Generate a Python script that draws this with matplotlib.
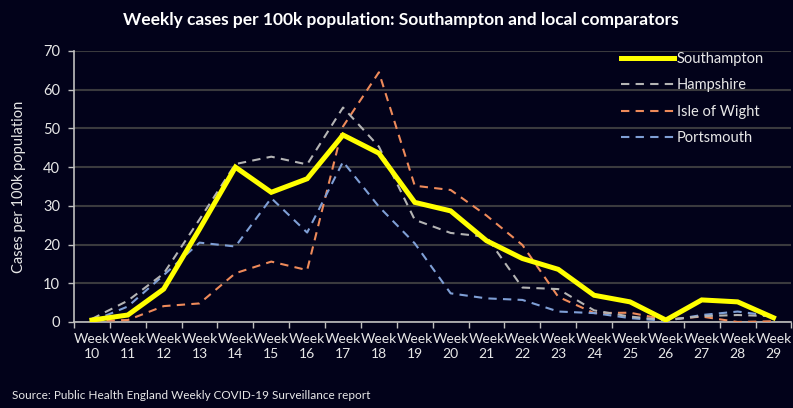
import numpy as np
from matplotlib import pyplot as plt

weeks = [f'Week\n{w}' for w in range(10, 30)]
southampton = [0.5, 1.8, 8.5, 24.0, 40.0, 33.5, 37.0, 48.3, 43.6, 30.9, 28.7, 21.0, 16.4, 13.6, 6.9, 5.2, 0.5, 5.7, 5.2, 1.1]
hampshire = [0.8, 5.5, 12.5, 26.5, 40.8, 42.7, 40.7, 55.4, 45.3, 26.4, 23.0, 22.0, 8.9, 8.5, 3.0, 1.4, 0.5, 1.5, 1.8, 1.5]
isle_of_wight = [0.3, 0.5, 4.1, 4.8, 12.6, 15.6, 13.4, 50.5, 64.5, 35.2, 34.1, 27.5, 19.9, 6.5, 2.3, 2.4, 0.6, 1.4, 0.0, 0.2]
portsmouth = [0.2, 4.0, 12.1, 20.5, 19.5, 32.0, 23.1, 41.4, 29.8, 20.3, 7.4, 6.1, 5.7, 2.7, 2.3, 1.0, 0.3, 1.8, 2.7, 1.5]

bg = '#02021a'
txt = '#e8e8e8'

plt.rcParams['font.family'] = ['Lato', 'DejaVu Sans']

fig = plt.figure(figsize=(7.93, 4.08), dpi=100, facecolor=bg)
ax = fig.add_axes([0.0933, 0.2108, 0.9047, 0.6642], facecolor=bg)

x = np.arange(len(weeks))
ax.plot(x, southampton, color='#ffff00', lw=3.6, label='Southampton', zorder=5, solid_joinstyle='miter')
ax.plot(x, hampshire, color='#b4b4b4', lw=1.5, ls=(0, (4, 3)), label='Hampshire', zorder=4)
ax.plot(x, isle_of_wight, color='#ee8a5a', lw=1.5, ls=(0, (4, 3)), label='Isle of Wight', zorder=3)
ax.plot(x, portsmouth, color='#7f9fd6', lw=1.5, ls=(0, (4, 3)), label='Portsmouth', zorder=3)

ax.set_xlim(-0.5, len(weeks) - 0.5)
ax.set_ylim(0, 70)
ax.set_yticks(range(0, 71, 10))
ax.yaxis.grid(True, color='#3a3a3e', lw=1.5)
ax.set_axisbelow(True)

ax.set_xticks(x)
ax.set_xticklabels(weeks, color=txt, fontsize=10, linespacing=1.3)
ax.set_xticks(np.arange(-0.5, len(weeks), 1), minor=True)
ax.tick_params(axis='x', which='major', length=0, pad=8)
ax.tick_params(axis='x', which='minor', length=4, color='#bfbfbf', width=1)
ax.tick_params(axis='y', length=4, color='#bfbfbf', width=1, labelcolor=txt, labelsize=10.5, pad=6)

for s in ['top', 'right']:
    ax.spines[s].set_visible(False)
for s in ['left', 'bottom']:
    ax.spines[s].set_color('#bfbfbf')
    ax.spines[s].set_linewidth(1.2)

ax.set_ylabel('Cases per 100k population', color=txt, fontsize=10.5, labelpad=12)

leg = ax.legend(loc='upper right', bbox_to_anchor=(0.98, 1.045), frameon=False, fontsize=10.5,
                labelcolor=txt, handlelength=3.6, handletextpad=0.2, labelspacing=0.85)

fig.text(0.505, 0.952, 'Weekly cases per 100k population: Southampton and local comparators',
         ha='center', va='center', color='white', fontsize=12.5, fontweight='bold')
fig.text(0.015, 0.03, 'Source: Public Health England Weekly COVID-19 Surveillance report',
         ha='left', va='center', color=txt, fontsize=8.5)

fig.savefig('out.png', dpi=100, facecolor=bg)
